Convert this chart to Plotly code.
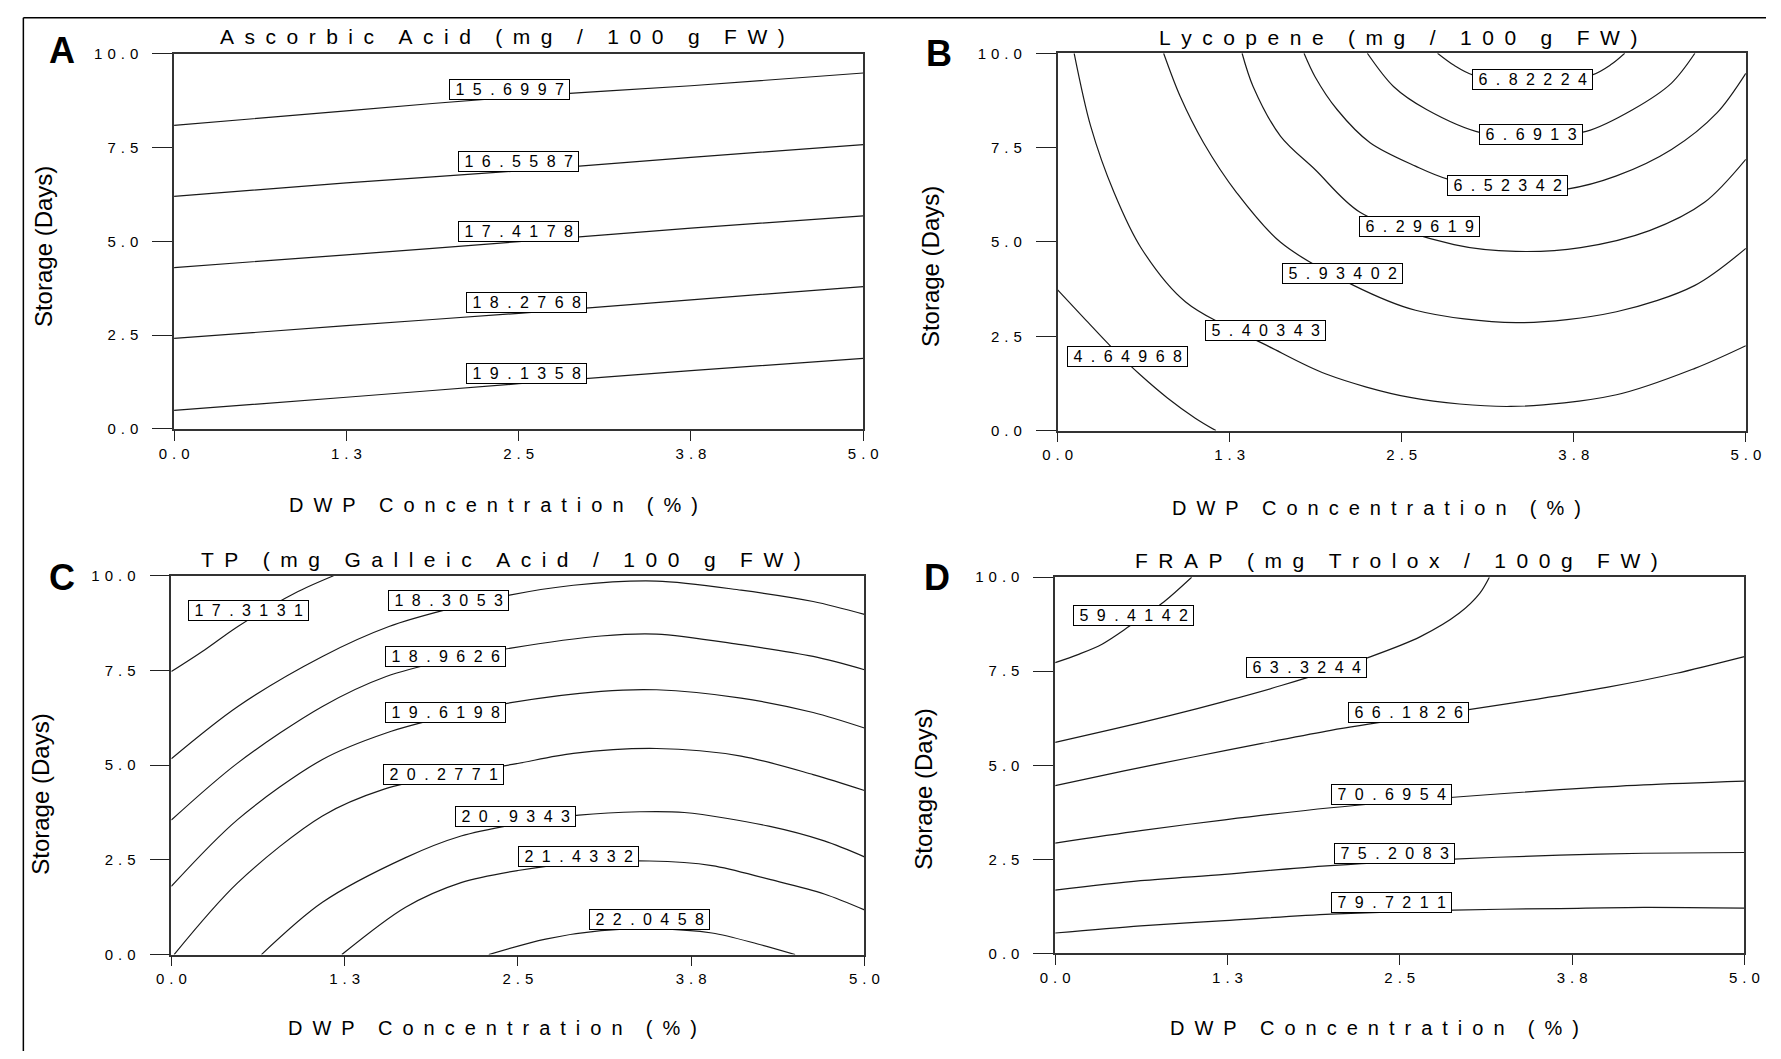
import plotly.graph_objects as go

W, H = 1781, 1059

# ---------------- data ----------------
X_TICKS = [0, 1.25, 2.5, 3.75, 5]
X_TICKTEXT = ["0.0", "1.3", "2.5", "3.8", "5.0"]
Y_TICKS = [0, 2.5, 5, 7.5, 10]
Y_TICKTEXT = ["0.0", "2.5", "5.0", "7.5", "10.0"]

TITLES = ["Ascorbic Acid (mg / 100 g FW)", "Lycopene (mg / 100 g FW)",
          "TP (mg Galleic Acid / 100 g FW)", "FRAP (mg Trolox / 100g FW)"]
PANEL_LETTERS = ["A", "B", "C", "D"]
X_TITLE = "DWP Concentration (%)"
Y_TITLE = "Storage (Days)"

# Panel A - Ascorbic acid
A_LEVELS = ["15.6997", "16.5587", "17.4178", "18.2768", "19.1358"]
A_CURVES_X = [[0, 1.25, 2.5, 3.75, 5]] * 5
A_CURVES_Y = [[8.09, 8.48, 8.86, 9.15, 9.49],
              [6.20, 6.56, 6.88, 7.24, 7.58],
              [4.30, 4.64, 4.99, 5.35, 5.68],
              [2.41, 2.75, 3.08, 3.44, 3.79],
              [0.49, 0.84, 1.20, 1.55, 1.88]]
A_LABEL_X = [2.43, 2.50, 2.50, 2.56, 2.56]
A_LABEL_Y = [9.05, 7.14, 5.26, 3.37, 1.47]

# Panel B - Lycopene
B_LEVELS = ["4.64968", "5.40343", "5.93402", "6.29619", "6.52342", "6.6913", "6.82224"]
B_CURVES_X = [[0, 0.2, 0.4, 0.6, 0.8, 1.0, 1.15],
              [0.12, 0.24, 0.41, 0.61, 0.93, 1.54, 1.95, 2.56, 3.29, 4.06, 4.63, 5],
              [0.77, 0.89, 1.06, 1.30, 1.62, 2.15, 2.60, 3.33, 4.06, 4.63, 5],
              [1.34, 1.42, 1.62, 1.87, 2.20, 2.88, 3.33, 3.80, 4.30, 4.70, 5],
              [1.79, 1.87, 2.03, 2.27, 2.60, 2.84, 3.37, 3.70, 4.06, 4.46, 4.79, 5],
              [2.25, 2.44, 2.68, 3.08, 3.45, 3.84, 4.18, 4.46, 4.63],
              [2.76, 2.88, 3.02, 3.45, 3.88, 4.02, 4.12]]
B_CURVES_Y = [[3.73, 2.95, 2.18, 1.48, 0.86, 0.33, 0],
              [10, 8.07, 6.31, 4.82, 3.41, 2.22, 1.50, 0.88, 0.64, 0.95, 1.65, 2.25],
              [10, 8.86, 7.63, 6.31, 4.99, 3.85, 3.19, 2.86, 3.15, 3.85, 4.83],
              [10, 9.12, 7.80, 6.92, 5.78, 4.93, 4.75, 4.85, 5.30, 6.05, 7.19],
              [10, 9.38, 8.51, 7.63, 7.01, 6.66, 6.35, 6.40, 6.75, 7.45, 8.42, 9.47],
              [10, 9.12, 8.51, 7.89, 7.80, 7.93, 8.51, 9.21, 10],
              [10, 9.68, 9.42, 9.20, 9.42, 9.70, 10]]
B_LABEL_X = [0.51, 1.51, 2.07, 2.63, 3.27, 3.44, 3.45]
B_LABEL_Y = [1.97, 2.65, 4.16, 5.41, 6.49, 7.86, 9.30]

# Panel C - Total phenolics
C_LEVELS = ["17.3131", "18.3053", "18.9626", "19.6198", "20.2771", "20.9343", "21.4332", "22.0458"]
C_CURVES_X = [[0, 0.24, 0.48, 0.89, 1.17],
              [0, 0.48, 1.09, 1.57, 2.0, 2.44, 2.90, 3.50, 4.11, 4.63, 5],
              [0, 0.48, 1.09, 1.55, 2.0, 2.45, 3.10, 3.50, 4.11, 4.63, 5],
              [0, 0.48, 1.09, 1.55, 2.0, 2.45, 3.10, 3.50, 4.11, 4.63, 5],
              [0.02, 0.48, 1.09, 1.53, 2.0, 2.46, 2.90, 3.50, 4.11, 4.63, 5],
              [0.65, 1.09, 1.69, 2.09, 2.5, 2.94, 3.38, 3.70, 4.31, 4.71, 5],
              [1.23, 1.69, 2.09, 2.5, 2.9, 3.45, 3.90, 4.31, 4.71, 5],
              [2.29, 2.70, 3.10, 3.50, 3.90, 4.23, 4.50]]
C_CURVES_Y = [[7.47, 8.04, 8.66, 9.54, 10],
              [5.17, 6.55, 7.87, 8.66, 9.12, 9.49, 9.75, 9.86, 9.62, 9.32, 8.98],
              [3.55, 5.06, 6.55, 7.34, 7.78, 8.09, 8.41, 8.46, 8.18, 7.87, 7.52],
              [1.80, 3.57, 5.15, 5.85, 6.30, 6.65, 6.95, 6.99, 6.77, 6.39, 5.98],
              [0, 1.90, 3.66, 4.36, 4.75, 5.02, 5.31, 5.44, 5.24, 4.75, 4.33],
              [0, 1.38, 2.56, 3.13, 3.45, 3.68, 3.77, 3.75, 3.39, 3.00, 2.58],
              [0, 1.25, 1.90, 2.22, 2.40, 2.47, 2.35, 1.99, 1.60, 1.18],
              [0, 0.41, 0.63, 0.68, 0.57, 0.28, 0]]
C_LABEL_X = [0.56, 2.00, 1.98, 1.98, 1.96, 2.48, 2.94, 3.45]
C_LABEL_Y = [9.09, 9.35, 7.88, 6.40, 4.75, 3.64, 2.59, 0.93]

# Panel D - FRAP
D_LEVELS = ["59.4142", "63.3244", "66.1826", "70.6954", "75.2083", "79.7211"]
D_CURVES_X = [[0, 0.17, 0.34, 0.54, 0.79, 0.99],
              [0, 0.42, 0.83, 1.23, 1.64, 2.29, 2.65, 2.93, 3.08, 3.15],
              [0, 0.5, 1.0, 1.5, 2.0, 2.5, 3.0, 3.5, 4.0, 4.5, 5],
              [0, 0.62, 1.23, 2.00, 2.89, 3.66, 4.27, 5],
              [0, 0.62, 1.23, 1.94, 2.85, 3.66, 4.27, 5],
              [0, 0.62, 1.23, 2.00, 2.89, 3.66, 4.27, 5]]
D_CURVES_Y = [[7.73, 7.95, 8.22, 8.70, 9.35, 10],
              [5.61, 5.96, 6.32, 6.70, 7.12, 7.89, 8.42, 9.04, 9.57, 10],
              [4.46, 4.85, 5.22, 5.58, 5.93, 6.22, 6.48, 6.76, 7.07, 7.44, 7.89],
              [2.93, 3.26, 3.55, 3.87, 4.15, 4.35, 4.48, 4.58],
              [1.68, 1.93, 2.10, 2.32, 2.50, 2.61, 2.66, 2.68],
              [0.54, 0.73, 0.87, 1.04, 1.15, 1.19, 1.22, 1.20]]
D_LABEL_X = [0.57, 1.82, 2.56, 2.44, 2.46, 2.44]
D_LABEL_Y = [8.99, 7.61, 6.39, 4.21, 2.66, 1.35]

# ---------------- styling helpers ----------------
FONT = "Liberation Sans, Arial, Helvetica, sans-serif"
EN = "\u2002"
THIRD = "\u2004"
NB = "\u00a0"
WORD_GAP = "\u2003\u2006"


def spaced(text, gap, wgap):
    return wgap.join(gap.join(list(w)) for w in text.split(" "))


def px(x):
    return x / W


def py(y):
    return 1 - y / H


# panel plot-area boxes in window pixels: (left, right, top, bottom)
BOXES = [(161.8, 862.8, 45.6, 426.6),
         (1060.5, 1760.5, 45.0, 428.5),
         (159.0, 864.0, 576.0, 961.0),
         (1058.0, 1759.0, 577.5, 959.7)]
TITLE_POS = [(496, 28), (1407, 29), (494, 559), (1405, 560)]
LETTER_POS = [(48, 42.5), (940, 45), (48, 578), (938, 578)]
XTITLE_POS = [(487, 504), (1385, 507), (486, 1036), (1383, 1036)]
YTITLE_POS = [(28.4, 241), (931, 262), (26, 798), (924, 793)]

panels = [
    (A_LEVELS, A_CURVES_X, A_CURVES_Y, A_LABEL_X, A_LABEL_Y),
    (B_LEVELS, B_CURVES_X, B_CURVES_Y, B_LABEL_X, B_LABEL_Y),
    (C_LEVELS, C_CURVES_X, C_CURVES_Y, C_LABEL_X, C_LABEL_Y),
    (D_LEVELS, D_CURVES_X, D_CURVES_Y, D_LABEL_X, D_LABEL_Y),
]

fig = go.Figure()
annotations = []
layout_axes = {}

for i, (levels, cx, cy, lx, ly) in enumerate(panels):
    n = i + 1
    xa = "x" if n == 1 else f"x{n}"
    ya = "y" if n == 1 else f"y{n}"
    for k in range(len(levels)):
        fig.add_trace(go.Scatter(
            x=cx[k], y=cy[k], mode="lines", xaxis=xa, yaxis=ya,
            line=dict(color="#1a1a1a", width=1.2, shape="spline", smoothing=0.9),
            showlegend=False, hoverinfo="skip"))
        annotations.append(dict(
            x=lx[k], y=ly[k], xref=xa, yref=ya, showarrow=False,
            text=NB + spaced(levels[k], "\u2005" + NB, "") + NB,
            font=dict(family=FONT, size=16, color="black"),
            bgcolor="white", bordercolor="black", borderwidth=1, borderpad=1,
            xanchor="center", yanchor="middle"))

    l, r, t, b = BOXES[i]
    axis_common = dict(showgrid=False, zeroline=False, showline=True, mirror=True,
                       linecolor="#333333", linewidth=1.5, ticks="outside",
                       tickcolor="#222222", tickwidth=1.3,
                       tickfont=dict(family=FONT, size=15, color="black"),
                       fixedrange=True)
    layout_axes["xaxis" if n == 1 else f"xaxis{n}"] = dict(
        axis_common, domain=[px(l), px(r)], range=[0, 5], tickvals=X_TICKS,
        ticktext=[spaced(s, THIRD, THIRD) for s in X_TICKTEXT], ticklen=10,
        anchor=ya)
    layout_axes["yaxis" if n == 1 else f"yaxis{n}"] = dict(
        axis_common, domain=[py(b), py(t)], range=[0, 10], tickvals=Y_TICKS,
        ticktext=[spaced(s, THIRD, THIRD) for s in Y_TICKTEXT], ticklen=20,
        ticklabelstandoff=11, anchor=xa)

    tx, ty = TITLE_POS[i]
    annotations.append(dict(x=px(tx), y=py(ty), xref="paper", yref="paper",
                            showarrow=False, xanchor="center", yanchor="middle",
                            text=spaced(TITLES[i], EN, WORD_GAP),
                            font=dict(family=FONT, size=21, color="black")))
    lx_, ly_ = LETTER_POS[i]
    annotations.append(dict(x=px(lx_), y=py(ly_), xref="paper", yref="paper",
                            showarrow=False, xanchor="center", yanchor="middle",
                            text="<b>" + PANEL_LETTERS[i] + "</b>",
                            font=dict(family=FONT, size=36, color="black")))
    xx, xy = XTITLE_POS[i]
    annotations.append(dict(x=px(xx), y=py(xy), xref="paper", yref="paper",
                            showarrow=False, xanchor="center", yanchor="middle",
                            text=spaced(X_TITLE, EN, WORD_GAP),
                            font=dict(family=FONT, size=20, color="black")))
    yx, yy = YTITLE_POS[i]
    annotations.append(dict(x=px(yx), y=py(yy), xref="paper", yref="paper",
                            showarrow=False, xanchor="center", yanchor="middle",
                            text=Y_TITLE, textangle=-90,
                            font=dict(family=FONT, size=24, color="black")))

shapes = [
    dict(type="line", xref="paper", yref="paper", x0=px(8.5), x1=1.0,
         y0=py(9.0), y1=py(9.0), line=dict(color="black", width=1.5)),
    dict(type="line", xref="paper", yref="paper", x0=px(8.5), x1=px(8.5),
         y0=py(9.0), y1=0.0, line=dict(color="black", width=1.5)),
]

fig.update_layout(
    width=W, height=H,
    margin=dict(l=0, r=0, t=0, b=0),
    paper_bgcolor="white", plot_bgcolor="white",
    showlegend=False, hovermode=False,
    annotations=annotations, shapes=shapes,
    **layout_axes)

# remove the default page margin so the 1781x1059 figure fills the window exactly
fig.write_html(
    "out.html",
    config={"displayModeBar": False},
    post_script="document.body.style.margin='0';"
                "document.documentElement.style.overflow='hidden';"
                "document.body.style.overflow='hidden';")
